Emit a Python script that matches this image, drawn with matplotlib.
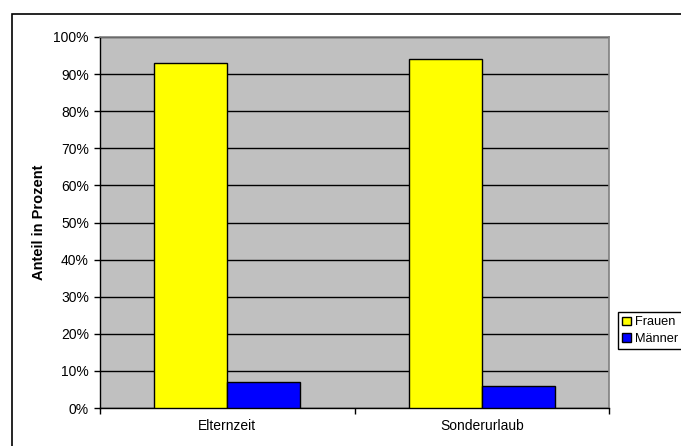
import matplotlib
matplotlib.use("Agg")
import matplotlib.pyplot as plt
import matplotlib.patches as mpatches
import numpy as np

# data
categories = ["Elternzeit", "Sonderurlaub"]
frauen = [93, 94]
maenner = [7, 6]
series_names = ["Frauen", "Männer"]
y_ticks = [0, 10, 20, 30, 40, 50, 60, 70, 80, 90, 100]

plt.rcParams['font.family'] = ['Liberation Sans', 'DejaVu Sans']

fig = plt.figure(figsize=(6.81, 4.46), dpi=100)
W, H = 681, 446

# outer chart frame (right/bottom run off the picture)
frame = mpatches.Rectangle((12 / W, -0.05), 1.0, 1 - 14 / H + 0.05, transform=fig.transFigure,
                           fill=False, edgecolor='black', linewidth=1.2, clip_on=False)
fig.patches.append(frame)

ax = fig.add_axes([100 / W, 1 - 408 / H, 509 / W, 371 / H])
ax.set_facecolor('#c0c0c0')

x = np.arange(len(categories))
bw = 0.287
ax.bar(x - bw / 2, frauen, bw, color='#ffff00', edgecolor='black', linewidth=1.0,
       label=series_names[0], zorder=3)
ax.bar(x + bw / 2, maenner, bw, color='#0000ff', edgecolor='black', linewidth=1.0,
       label=series_names[1], zorder=3)

ax.set_xlim(-0.5, len(categories) - 0.5)
ax.set_ylim(0, 100)
ax.set_yticks(y_ticks)
ax.set_yticklabels([f"{v}%" for v in y_ticks], fontsize=10)
ax.yaxis.grid(True, color='black', linewidth=1.0, zorder=1)
ax.set_axisbelow(True)

ax.set_xticks(x)
ax.set_xticklabels(categories, fontsize=10)
ax.tick_params(axis='x', which='major', length=0, pad=8)
ax.set_xticks(np.arange(len(categories) + 1) - 0.5, minor=True)
ax.tick_params(axis='x', which='minor', length=4, direction='out', width=1)
ax.tick_params(axis='y', length=4, direction='out', width=1, pad=4)

for s in ['top', 'right']:
    ax.spines[s].set_color('#808080')
    ax.spines[s].set_linewidth(1.2)
for s in ['left', 'bottom']:
    ax.spines[s].set_color('black')
    ax.spines[s].set_linewidth(1.0)

ax.set_ylabel("Anteil in Prozent", fontsize=10.5, fontweight='bold', labelpad=5)

# legend box runs off the right edge, as in the original; labels kept inside
leg = fig.legend(loc='upper left', bbox_to_anchor=(618 / W, 1 - 312 / H), fontsize=9.2,
                 frameon=True, fancybox=False, edgecolor='black', framealpha=1,
                 handlelength=0.65, handleheight=0.65, handletextpad=0.3,
                 borderpad=0.35, labelspacing=0.35, borderaxespad=0)
leg.get_frame().set_linewidth(1.0)

fig.savefig("out.png", dpi=100)
